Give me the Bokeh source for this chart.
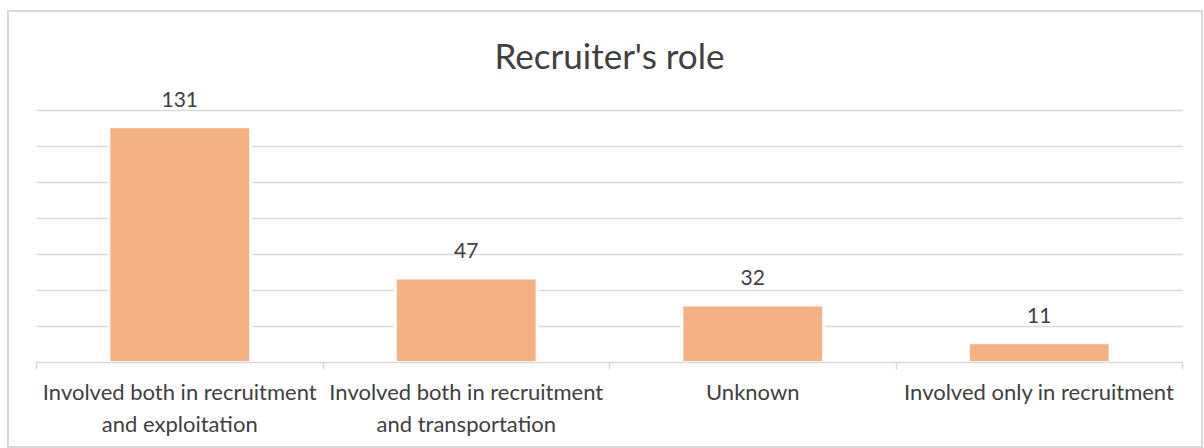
from bokeh.plotting import figure
from bokeh.models import ColumnDataSource, FixedTicker, Range1d
from bokeh.core.properties import value
from bokeh.embed import file_html
from bokeh.resources import INLINE

# ---- data ----
categories = ["Involved both in recruitment\nand exploitation",
              "Involved both in recruitment\nand transportation",
              "Unknown",
              "Involved only in recruitment"]
counts = [131, 47, 32, 11]
title_text = "Recruiter's role"
grid_values = [0, 20, 40, 60, 80, 100, 120, 140]

FONT = "Lato"
TEXT_COLOR = "#404040"
GRAY = "#d9d9d9"

xs = [i + 0.5 for i in range(len(categories))]
src = ColumnDataSource(dict(x=xs, top=counts, label=[str(c) for c in counts]))

p = figure(width=1196, height=438, output_backend="svg", toolbar_location=None,
           x_range=Range1d(0, len(categories)), y_range=Range1d(0, 155),
           min_border_left=27, min_border_right=23, min_border_top=71,
           min_border_bottom=88)
p.styles = {"border": "2px solid #d9d9d9", "box-sizing": "border-box",
            "margin-left": "7px", "margin-top": "10px"}

p.title.text = title_text
p.title.align = "center"
p.title.text_font = FONT
p.title.text_font_size = "35px"
p.title.text_font_style = "normal"
p.title.text_color = TEXT_COLOR
p.title.standoff = 16

p.outline_line_color = None
p.background_fill_color = "white"
p.border_fill_color = "white"

p.vbar(x="x", top="top", width=0.495, source=src, fill_color="#F4B183",
       line_color="white", line_width=3)

p.text(x="x", y="top", text="label", source=src, text_align="center",
       text_baseline="bottom", y_offset=-20, text_font=value(FONT),
       text_font_size="21px", text_color=TEXT_COLOR)

p.yaxis.visible = False
p.xgrid.visible = False
p.ygrid.ticker = FixedTicker(ticks=grid_values)
p.ygrid.grid_line_color = GRAY
p.ygrid.grid_line_width = 1.5

ax = p.xaxis[0]
ax.ticker = FixedTicker(ticks=xs, minor_ticks=list(range(len(categories) + 1)))
ax.major_label_overrides = {x: c for x, c in zip(xs, categories)}
ax.major_tick_line_color = None
ax.minor_tick_line_color = GRAY
ax.minor_tick_line_width = 1.5
ax.minor_tick_out = 7
ax.minor_tick_in = 0
ax.axis_line_color = GRAY
ax.axis_line_width = 1.5
ax.major_label_text_font = FONT
ax.major_label_text_font_size = "22px"
ax.major_label_text_color = TEXT_COLOR
ax.major_label_standoff = 8

open("out.html", "w").write(file_html(p, INLINE))
